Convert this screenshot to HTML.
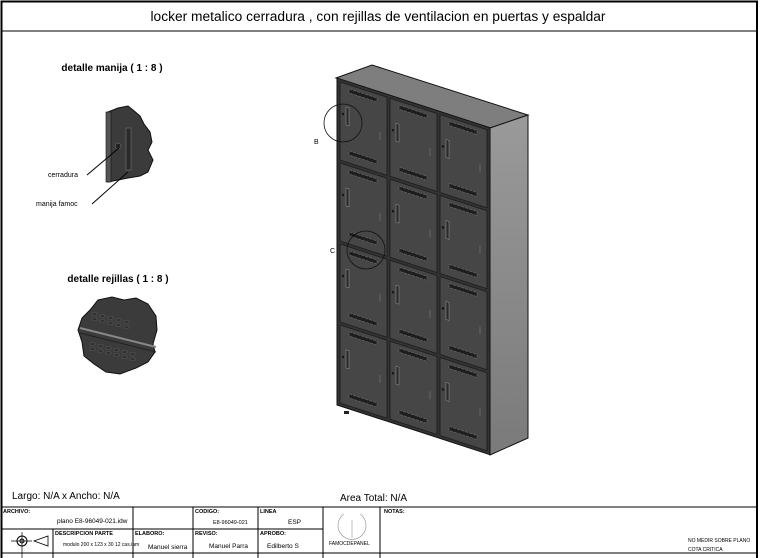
<!DOCTYPE html>
<html><head><meta charset="utf-8"><style>
html,body{margin:0;padding:0;background:#fff;}
svg{display:block;font-family:"Liberation Sans",sans-serif;}
</style></head><body>
<svg width="766" height="558" viewBox="0 0 766 558" xmlns="http://www.w3.org/2000/svg">
<defs>
<linearGradient id="side" x1="0" y1="0" x2="0" y2="1"><stop offset="0" stop-color="#9a9a9a"/><stop offset="1" stop-color="#7a7a7a"/></linearGradient>
</defs>
<rect x="0" y="0" width="766" height="558" fill="#fff"/>
<rect x="1.5" y="1.5" width="755.5" height="560" fill="none" stroke="#000" stroke-width="2"/>
<line x1="1" y1="31" x2="757" y2="31" stroke="#000" stroke-width="1"/>
<text x="378" y="21" font-size="13.5" text-anchor="middle" fill="#000" textLength="455" lengthAdjust="spacingAndGlyphs">locker metalico cerradura , con rejillas de ventilacion en puertas y espaldar</text>

<text x="112" y="71" font-size="10" font-weight="bold" text-anchor="middle">detalle manija ( 1 : 8 )</text>
<text x="118" y="282" font-size="10" font-weight="bold" text-anchor="middle">detalle rejillas ( 1 : 8 )</text>

<path d="M108,112 L118,108 L128,106 L133,110 L140,116 L144,124 L150,132 L152,142 L148,150 L153,160 L148,172 L140,176 L128,178 L118,180 L108,182 Z" fill="#3b3b3b" stroke="#111"/>
<rect x="106" y="112" width="5" height="70" fill="#555" stroke="#111" stroke-width="0.6"/>
<rect x="126" y="128" width="5" height="42" fill="#2a2a2a" stroke="#777" stroke-width="0.6"/>
<circle cx="118" cy="146" r="3" fill="#222" stroke="#888" stroke-width="0.5"/>
<line x1="87" y1="175" x2="119" y2="148" stroke="#000"/>
<line x1="92" y1="204" x2="128" y2="172" stroke="#000"/>
<text x="48" y="177" font-size="7">cerradura</text>
<text x="36" y="206" font-size="7">manija famoc</text>

<path d="M98,300 L112,297 L124,300 L136,298 L148,304 L156,316 L157,330 L153,344 L155,352 L148,362 L136,368 L120,374 L106,372 L94,364 L84,356 L82,342 L78,330 L82,318 L90,310 Z" fill="#3b3b3b" stroke="#111"/>
<line x1="80" y1="328" x2="156" y2="347" stroke="#888" stroke-width="2"/>
<line x1="80" y1="333" x2="156" y2="352" stroke="#222" stroke-width="1"/>
<g fill="#222" stroke="#777" stroke-width="0.4">
<rect x="92" y="313" width="5" height="2"/><rect x="100" y="315" width="5" height="2"/><rect x="108" y="317" width="5" height="2"/><rect x="116" y="319" width="5" height="2"/><rect x="124" y="321" width="5" height="2"/>
<rect x="92" y="318" width="5" height="2"/><rect x="100" y="320" width="5" height="2"/><rect x="108" y="322" width="5" height="2"/><rect x="116" y="324" width="5" height="2"/><rect x="124" y="326" width="5" height="2"/>
<rect x="90" y="343" width="5" height="2"/><rect x="98" y="345" width="5" height="2"/><rect x="106" y="347" width="5" height="2"/><rect x="114" y="349" width="5" height="2"/><rect x="122" y="351" width="5" height="2"/><rect x="130" y="353" width="5" height="2"/>
<rect x="90" y="348" width="5" height="2"/><rect x="98" y="350" width="5" height="2"/><rect x="106" y="352" width="5" height="2"/><rect x="114" y="354" width="5" height="2"/><rect x="122" y="356" width="5" height="2"/><rect x="130" y="358" width="5" height="2"/>
</g>

<polygon points="336,78 372,65 528,115 490,128" fill="#7e7e7e" stroke="#111"/>
<polygon points="490,128 528,115 528,438 490,455" fill="url(#side)" stroke="#111"/>
<g transform="matrix(1,0.325,0,1,337,78)">
<rect x="0" y="0" width="153" height="327" fill="#333" stroke="#111"/>
<g fill="#464646" stroke="#1a1a1a" stroke-width="0.8">
<rect x="3" y="3" width="47" height="78"/><rect x="53" y="3" width="47" height="78"/><rect x="103" y="3" width="47" height="78"/>
<rect x="3" y="84" width="47" height="78"/><rect x="53" y="84" width="47" height="78"/><rect x="103" y="84" width="47" height="78"/>
<rect x="3" y="165" width="47" height="78"/><rect x="53" y="165" width="47" height="78"/><rect x="103" y="165" width="47" height="78"/>
<rect x="3" y="246" width="47" height="78"/><rect x="53" y="246" width="47" height="78"/><rect x="103" y="246" width="47" height="78"/>
</g>
<g id="door">
<rect x="12" y="7" width="28" height="4" fill="#1e1e1e" stroke="#777" stroke-width="0.5" stroke-dasharray="3,1"/>
<rect x="12" y="69" width="28" height="4" fill="#1e1e1e" stroke="#777" stroke-width="0.5" stroke-dasharray="3,1"/>
<rect x="9" y="26" width="3" height="18" fill="#2a2a2a" stroke="#999" stroke-width="0.5"/>
<circle cx="6" cy="34" r="1.2" fill="#111"/>
<line x1="43" y1="40" x2="43" y2="48" stroke="#888" stroke-width="0.5"/>
</g>
<use href="#door" x="50"/><use href="#door" x="100"/>
<use href="#door" y="81"/><use href="#door" x="50" y="81"/><use href="#door" x="100" y="81"/>
<use href="#door" y="162"/><use href="#door" x="50" y="162"/><use href="#door" x="100" y="162"/>
<use href="#door" y="243"/><use href="#door" x="50" y="243"/><use href="#door" x="100" y="243"/>
</g>
<rect x="344" y="411" width="5" height="3" fill="#222"/>
<circle cx="343" cy="123" r="19" fill="none" stroke="#111" stroke-width="0.8"/>
<circle cx="366" cy="250" r="19" fill="none" stroke="#111" stroke-width="0.8"/>
<text x="314" y="144" font-size="7">B</text>
<text x="330" y="253" font-size="7">C</text>

<text x="12" y="499" font-size="10">Largo: N/A x Ancho: N/A</text>
<text x="340" y="501" font-size="10">Area Total: N/A</text>

<g stroke="#000" stroke-width="1" fill="none">
<line x1="1" y1="507" x2="757" y2="507"/>
<line x1="1" y1="529" x2="323" y2="529"/>
<line x1="1" y1="553" x2="757" y2="553"/>
<line x1="133" y1="507" x2="133" y2="558"/>
<line x1="193" y1="507" x2="193" y2="558"/>
<line x1="258" y1="507" x2="258" y2="558"/>
<line x1="323" y1="507" x2="323" y2="558"/>
<line x1="380" y1="507" x2="380" y2="558"/>
<line x1="53" y1="529" x2="53" y2="558"/>
</g>
<g font-size="5.5" font-weight="bold">
<text x="3" y="513">ARCHIVO:</text>
<text x="195" y="513">CODIGO:</text>
<text x="260" y="513">LINEA</text>
<text x="384" y="513">NOTAS:</text>
<text x="55" y="535">DESCRIPCION PARTE</text>
<text x="135" y="535">ELABORO:</text>
<text x="195" y="535">REVISO:</text>
<text x="260" y="535">APROBO:</text>
</g>
<g font-size="6.5">
<text x="57" y="523">plano E8-96049-021.idw</text>
<text x="213" y="524" font-size="5.5">E8-96049-021</text>
<text x="288" y="524">ESP</text>
<text x="63" y="546" font-size="5">modulo 200 x 123 x 30 12 cas.iam</text>
<text x="148" y="549">Manuel sierra</text>
<text x="209" y="548">Manuel Parra</text>
<text x="267" y="548">Edilberto S</text>
<text x="329" y="545" font-size="5">FAMOCDEPANEL</text>
<text x="688" y="542" font-size="5">NO MEDIR SOBRE PLANO</text>
<text x="688" y="551" font-size="5">COTA CRITICA</text>
</g>
<path d="M344,514 A14,14 0 1 0 360,514" fill="none" stroke="#999" stroke-width="0.7"/>
<line x1="352" y1="520" x2="352" y2="538" stroke="#999" stroke-width="0.6"/>
<circle cx="22" cy="541" r="5" fill="none" stroke="#000"/>
<circle cx="22" cy="541" r="2" fill="none" stroke="#000"/>
<line x1="11" y1="541" x2="32" y2="541" stroke="#000" stroke-width="0.7"/>
<line x1="22" y1="532" x2="22" y2="558" stroke="#000" stroke-width="0.7"/>
<polygon points="34,541 48,536 48,546" fill="none" stroke="#000" stroke-width="0.8"/>
</svg>
</body></html>
